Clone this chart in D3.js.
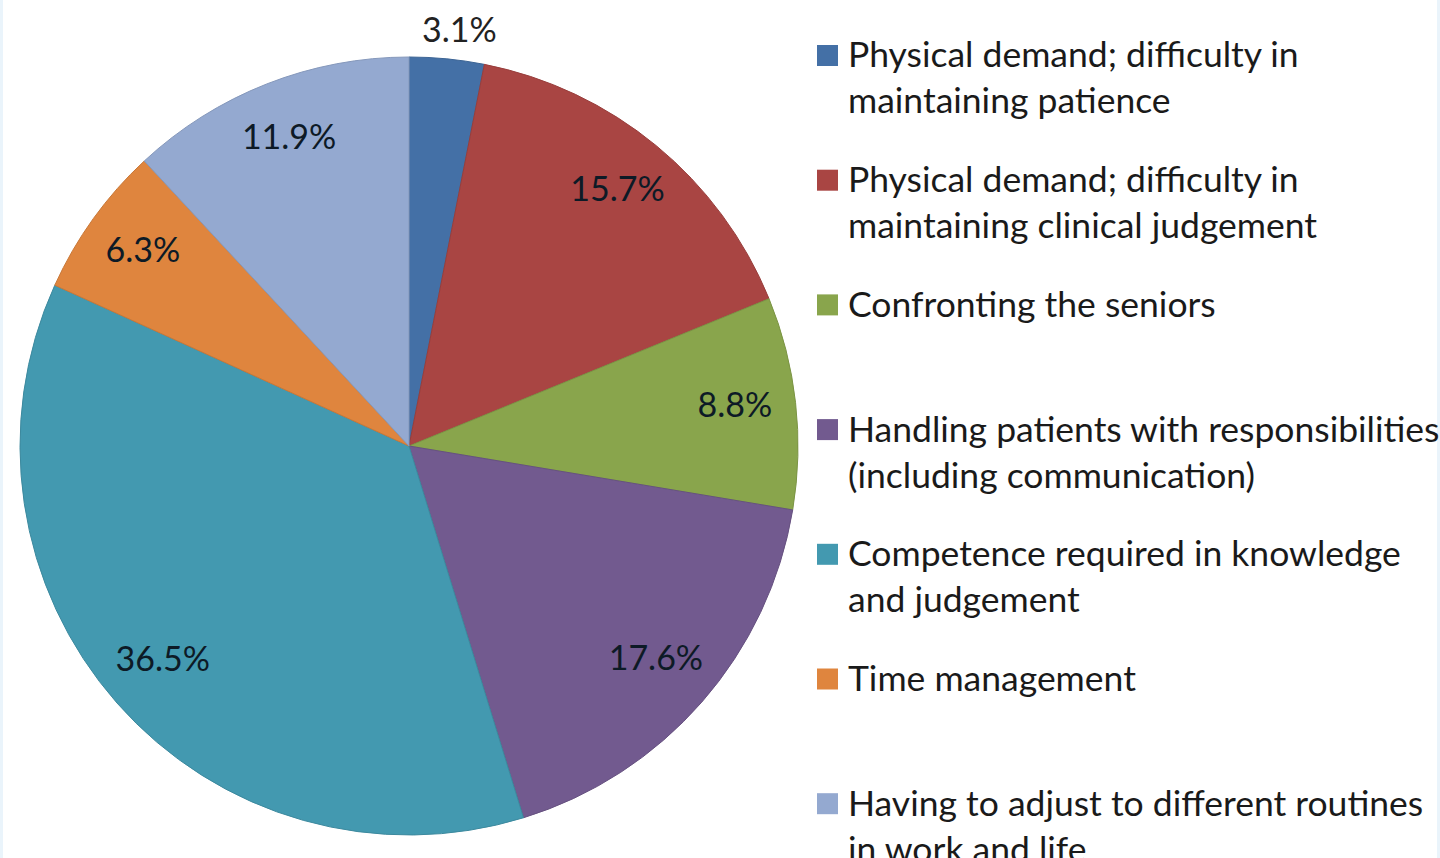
<!DOCTYPE html>
<html>
<head>
<meta charset="utf-8">
<script src="https://cdn.jsdelivr.net/npm/d3@7"></script>
<style>
  html, body { margin: 0; padding: 0; background: #fff; overflow: hidden; }
  svg { display: block; }
</style>
</head>
<body>
<div id="chart"></div>
<script>
// data
const categories = [
  ['Physical demand; difficulty in', 'maintaining patience'],
  ['Physical demand; difficulty in', 'maintaining clinical judgement'],
  ['Confronting the seniors'],
  ['Handling patients with responsibilities', '(including communication)'],
  ['Competence required in knowledge', 'and judgement'],
  ['Time management'],
  ['Having to adjust to different routines', 'in work and life']
];
const values = [3.1, 15.7, 8.8, 17.6, 36.5, 6.3, 11.9];
const colors = ['#4470a6', '#a94543', '#89a54c', '#725a8f', '#4399b0', '#df853e', '#94a9d0'];
const labels = values.map((v) => v.toFixed(1) + '%');

const width = 1440;
const height = 858;
const cx = 409, cy = 446, radius = 389;
const font = 'Lato, "Open Sans", sans-serif';

const svg = d3.select('#chart').append('svg')
  .attr('width', width)
  .attr('height', height);

// faint frame round the picture
svg.append('rect')
  .attr('x', 1.5).attr('y', -4)
  .attr('width', width - 3).attr('height', height + 8)
  .attr('fill', 'none')
  .attr('stroke', '#eaf4fb')
  .attr('stroke-width', 3);

const pie = d3.pie().sort(null).value((d) => d);
const arcs = pie(values);

const arc = d3.arc().innerRadius(0).outerRadius(radius);
const labelArc = d3.arc().innerRadius(328).outerRadius(328);
const outerLabelArc = d3.arc().innerRadius(414).outerRadius(414);

const g = svg.append('g')
  .attr('transform', `translate(${cx}, ${cy})`);

g.selectAll('path.slice')
  .data(arcs)
  .enter().append('path')
  .attr('class', 'slice')
  .attr('d', arc)
  .attr('fill', (d, i) => colors[i])
  .attr('stroke', (d, i) => d3.color(colors[i]).darker(0.3))
  .attr('stroke-width', 1);

// percentage labels; the smallest one sits outside the pie
g.selectAll('text.pct')
  .data(arcs)
  .enter().append('text')
  .attr('class', 'pct')
  .attr('transform', (d, i) => {
    const p = (i === 0 ? outerLabelArc : labelArc).centroid(d);
    if (i === 0) p[0] += 10;
    return `translate(${p[0]}, ${p[1] - 4})`;
  })
  .attr('text-anchor', 'middle')
  .attr('dy', '0.35em')
  .style('font-family', font)
  .style('font-size', '34px')
  .style('fill', (d, i) => i === 0 ? '#222' : '#0d1a26')
  .text((d, i) => labels[i]);

// legend
const legendX = 817;
const legendTop = 55;
const rowStep = 124.7;
const lineStep = 46;

const legend = svg.append('g');

const items = legend.selectAll('g.item')
  .data(categories)
  .enter().append('g')
  .attr('class', 'item')
  .attr('transform', (d, i) => `translate(${legendX}, ${legendTop + i * rowStep})`);

items.append('rect')
  .attr('x', 0).attr('y', -10)
  .attr('width', 21).attr('height', 21)
  .attr('fill', (d, i) => colors[i]);

items.append('text')
  .style('font-family', font)
  .style('font-size', '35.5px')
  .style('fill', '#1a1a1a')
  .selectAll('tspan')
  .data((d) => d)
  .enter().append('tspan')
  .attr('x', 31)
  .attr('y', (d, j) => j * lineStep)
  .attr('dy', '0.35em')
  .text((d) => d);
</script>
</body>
</html>
